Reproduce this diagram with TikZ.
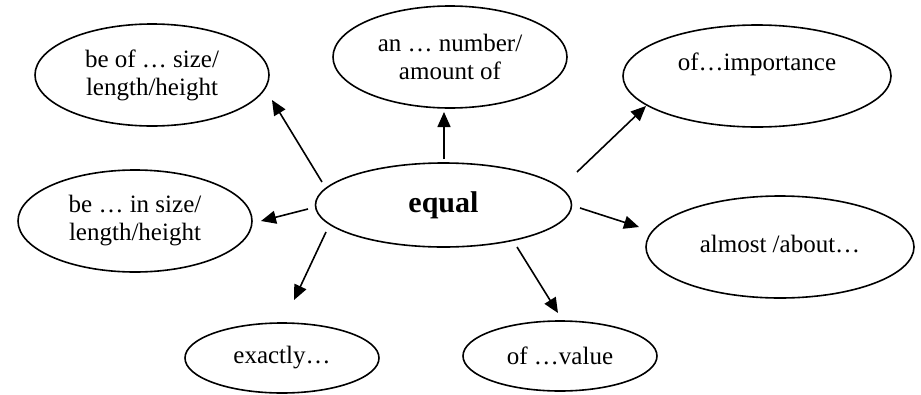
\documentclass[tikz,border=0pt]{standalone}
\usepackage{fontspec}
\setmainfont{Liberation Serif}
\usetikzlibrary{shapes.geometric,arrows.meta}
\begin{document}
\begin{tikzpicture}[x=1pt,y=-1pt,
  bubble/.style={ellipse,draw,line width=1.6pt,inner sep=0pt,align=center,
    font=\fontsize{25}{28}\selectfont},
  big/.style={bubble,minimum width=234pt,minimum height=102pt},
  wide/.style={bubble,minimum width=268pt,minimum height=102pt},
  small/.style={bubble,minimum width=194pt,minimum height=70pt},
  link/.style={line width=1.6pt,-{Triangle[length=15pt,width=13pt]}}]
\useasboundingbox (0,0) rectangle (921,394);
\node[bubble,minimum width=256pt,minimum height=84pt,font=\fontsize{30}{34}\selectfont\bfseries] (eq) at (443.5,205) {equal};
\node[big] (sizeof) at (152,75) {be of … size/\\length/height};
\node[big] (number) at (450,57) {an … number/\\amount of};
\node[wide] (import) at (757,76) {of…importance\\\mbox{}};
\node[big] (insize) at (135,221) {be … in size/\\length/height};
\node[wide] (almost) at (780,247) {\raisebox{7pt}{almost /about…}};
\node[small] (exactly) at (282,358) {exactly…};
\node[small] (value) at (560,356) {of …value};
% arrow end points
\coordinate (s1) at (322,182); \coordinate (e1) at (272,100);
\coordinate (s2) at (444,159); \coordinate (e2) at (444,112);
\coordinate (s3) at (577,172); \coordinate (e3) at (646,106);
\coordinate (s4) at (308,209); \coordinate (e4) at (261,221);
\coordinate (s5) at (326,232); \coordinate (e5) at (294,300);
\coordinate (s6) at (517,247); \coordinate (e6) at (558,313);
\coordinate (s7) at (580,208); \coordinate (e7) at (639,227);
\draw[link] (s1) -- (e1);
\draw[link] (s2) -- (e2);
\draw[link] (s3) -- (e3);
\draw[link] (s4) -- (e4);
\draw[link] (s5) -- (e5);
\draw[link] (s6) -- (e6);
\draw[link] (s7) -- (e7);
\end{tikzpicture}
\end{document}
